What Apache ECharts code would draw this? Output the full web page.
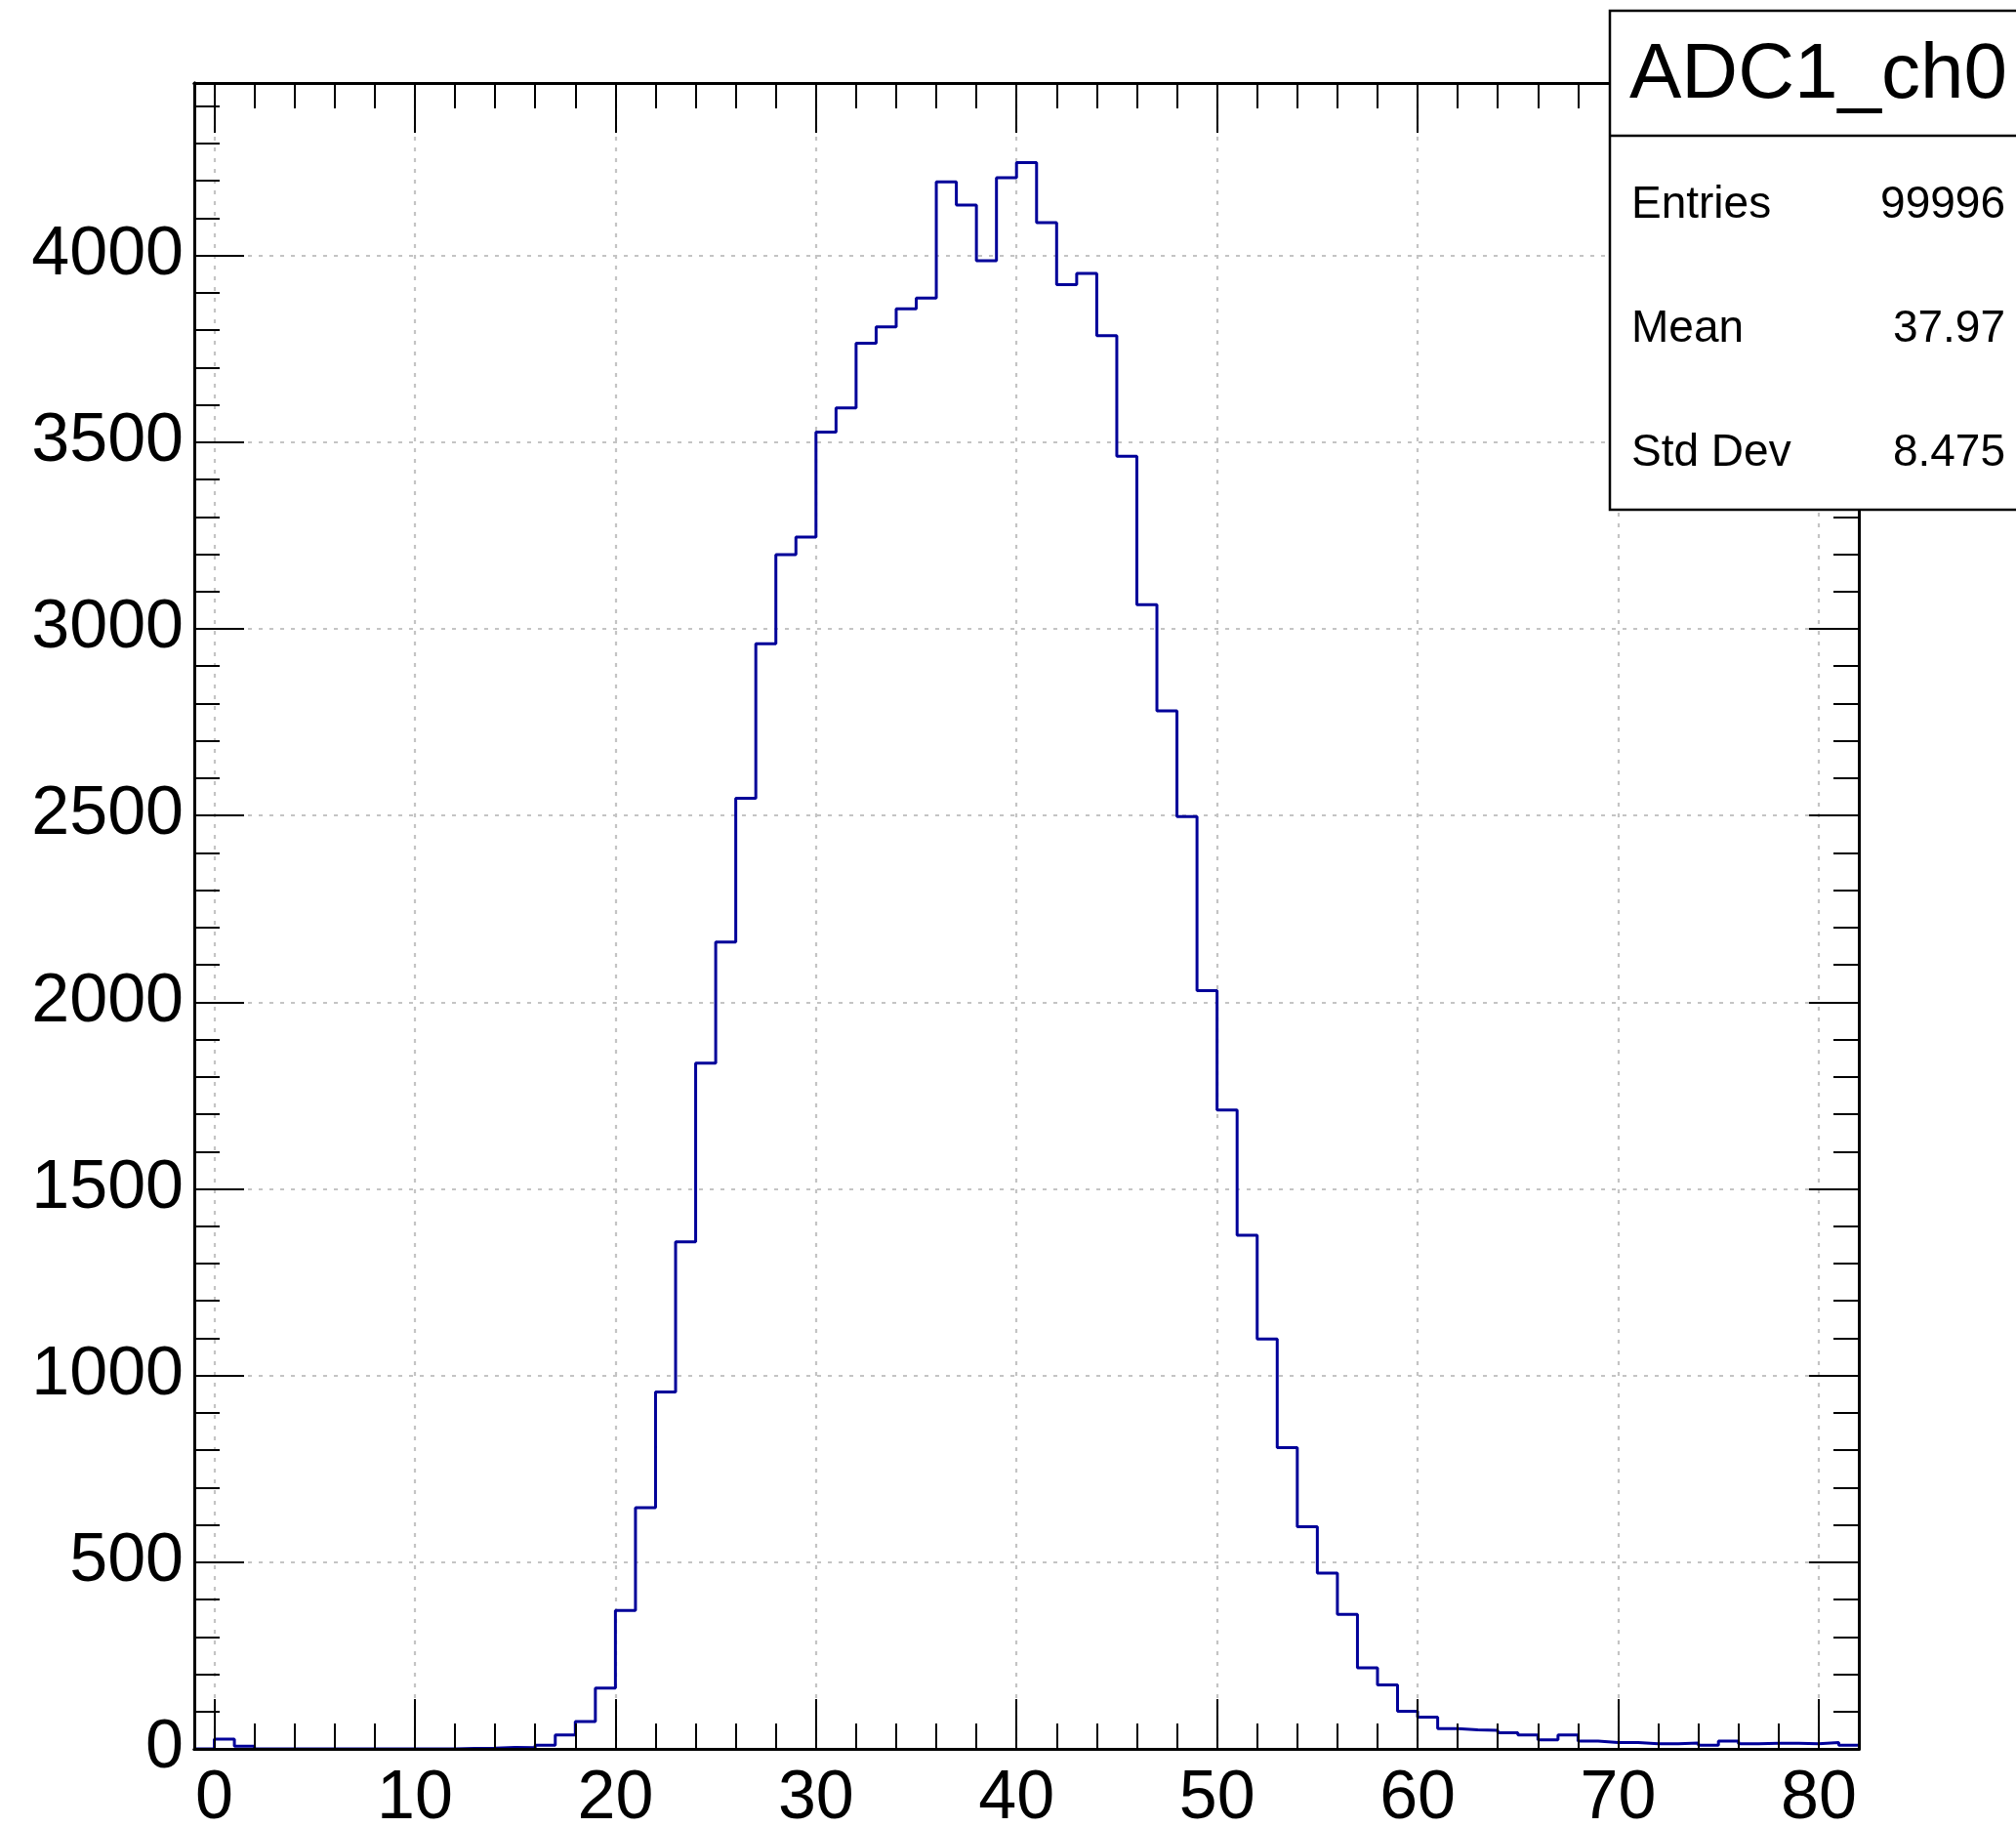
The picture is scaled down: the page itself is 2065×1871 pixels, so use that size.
<!DOCTYPE html>
<html><head><meta charset="utf-8">
<script src="https://cdn.jsdelivr.net/npm/echarts@6/dist/echarts.min.js"></script>
<style>html,body{margin:0;padding:0;background:#fff;} #chart{width:2065px;height:1871px;}</style>
</head><body><div id="chart"></div>
<script>
// ---- data ----
const histTitle = 'ADC1_ch0';
const binStart = -1;      // low edge of first bin
const binWidth = 1;
const counts = [
  0, 26, 7, 0, 0, 0, 0, 0, 0, 0, 0, 0, 0,
  1, 2, 4, 3, 10, 37, 73, 163,
  371, 646, 956, 1358, 1837, 2161, 2546, 2960, 3199, 3246,
  3527, 3592, 3765, 3809, 3857, 3886, 4197, 4135, 3986, 4208,
  4249, 4088, 3922, 3952, 3785, 3462, 3065, 2780, 2497, 2031,
  1711, 1376, 1098, 807, 595, 471, 360, 217, 171, 101,
  85, 54, 51, 50, 43, 37, 24, 37, 21, 17,
  17, 14, 14, 16, 10, 21, 14, 15, 15, 14,
  17, 10
];
const xRange = [-1, 82];
const yRange = [0, 4462];
const xMajorTicks = [0, 10, 20, 30, 40, 50, 60, 70, 80];
const xMinorTicks = [2, 4, 6, 8, 12, 14, 16, 18, 22, 24, 26, 28, 32, 34, 36, 38, 42, 44, 46, 48, 52, 54, 56, 58, 62, 64, 66, 68, 72, 74, 76, 78, 82];
const yMajorTicks = [0, 500, 1000, 1500, 2000, 2500, 3000, 3500, 4000];
const yMinorTicks = [100, 200, 300, 400, 600, 700, 800, 900, 1100, 1200, 1300, 1400, 1600, 1700, 1800, 1900, 2100, 2200, 2300, 2400, 2600, 2700, 2800, 2900, 3100, 3200, 3300, 3400, 3600, 3700, 3800, 3900, 4100, 4200, 4300, 4400];
const statLabels = ['Entries', 'Mean', 'Std Dev'];
const statValues = ['99996', '37.97', '8.475'];

// ---- build ----
const histData = counts.map((c, i) => [binStart + i * binWidth, c]);
histData.push([binStart + counts.length * binWidth, counts[counts.length - 1]]);

const FONT = "'Liberation Sans', Arial, Helvetica, sans-serif";
const gridStyle = { color: '#c4c4c4', width: 2.2, type: [4, 7] };

// role: 'grid' = labels + grid lines (under the histogram), 'frame' = frame line + ticks
function xAxisDef(pos, ticks, len, role) {
  const isGrid = role === 'grid';
  return {
    type: 'value', position: pos, min: xRange[0], max: xRange[1], z: isGrid ? 0 : 3,
    axisLine: { show: !isGrid, onZero: false, lineStyle: { color: '#000', width: 3 } },
    axisTick: { show: !isGrid, inside: true, length: len, customValues: ticks, lineStyle: { color: '#000', width: 2 } },
    axisLabel: isGrid ? { show: true, customValues: ticks, fontSize: 70, fontFamily: FONT, color: '#000', margin: 17,
                          formatter: v => String(v) } : { show: false },
    splitLine: isGrid ? { show: true, lineStyle: gridStyle } : { show: false },
    minorTick: { show: false }, minorSplitLine: { show: false }
  };
}
function yAxisDef(pos, ticks, len, role) {
  const isGrid = role === 'grid';
  return {
    type: 'value', position: pos, min: yRange[0], max: yRange[1], z: isGrid ? 0 : 3,
    axisLine: { show: !isGrid, onZero: false, lineStyle: { color: '#000', width: 3 } },
    axisTick: { show: !isGrid, inside: true, length: len, customValues: ticks, lineStyle: { color: '#000', width: 2 } },
    axisLabel: isGrid ? { show: true, customValues: ticks, fontSize: 70, fontFamily: FONT, color: '#000', margin: 11,
                          formatter: v => String(v) } : { show: false },
    splitLine: isGrid ? { show: true, lineStyle: gridStyle } : { show: false },
    minorTick: { show: false }, minorSplitLine: { show: false }
  };
}

const statRowsY = [210, 337, 464];
const graphics = [
  { type: 'rect', z: 100, shape: { x: 1649, y: 11, width: 440, height: 511 },
    style: { fill: '#fff', stroke: '#000', lineWidth: 2.5 } },
  { type: 'line', z: 101, shape: { x1: 1649, y1: 139, x2: 2070, y2: 139 },
    style: { stroke: '#000', lineWidth: 2.5 } },
  { type: 'text', z: 102, x: 1669, y: 78,
    style: { text: histTitle, fontSize: 80, fontFamily: FONT, fill: '#000', align: 'left', verticalAlign: 'middle' } }
];
statLabels.forEach((lab, i) => {
  graphics.push({ type: 'text', z: 102, x: 1671, y: statRowsY[i],
    style: { text: lab, fontSize: 46, fontFamily: FONT, fill: '#000', align: 'left', verticalAlign: 'middle' } });
  graphics.push({ type: 'text', z: 102, x: 2054, y: statRowsY[i],
    style: { text: statValues[i], fontSize: 46, fontFamily: FONT, fill: '#000', align: 'right', verticalAlign: 'middle' } });
});

const chart = echarts.init(document.getElementById('chart'), null, { renderer: 'canvas' });
chart.setOption({
  animation: false,
  backgroundColor: '#fff',
  grid: { left: 199, top: 85, width: 1705, height: 1706, containLabel: false, outerBoundsMode: 'none' },
  xAxis: [
    xAxisDef('bottom', xMajorTicks, 51, 'grid'),
    xAxisDef('bottom', xMajorTicks, 51, 'frame'),
    xAxisDef('bottom', xMinorTicks, 26, 'frame'),
    xAxisDef('top', xMajorTicks, 51, 'frame'),
    xAxisDef('top', xMinorTicks, 26, 'frame')
  ],
  yAxis: [
    yAxisDef('left', yMajorTicks, 51, 'grid'),
    yAxisDef('left', yMajorTicks, 51, 'frame'),
    yAxisDef('left', yMinorTicks, 26, 'frame'),
    yAxisDef('right', yMajorTicks, 51, 'frame'),
    yAxisDef('right', yMinorTicks, 26, 'frame')
  ],
  series: [{
    type: 'line', xAxisIndex: 0, yAxisIndex: 0, step: 'end', symbol: 'none', z: 2,
    data: histData,
    lineStyle: { color: '#000099', width: 3 },
    clip: true
  }],
  graphic: graphics
});
</script></body></html>
